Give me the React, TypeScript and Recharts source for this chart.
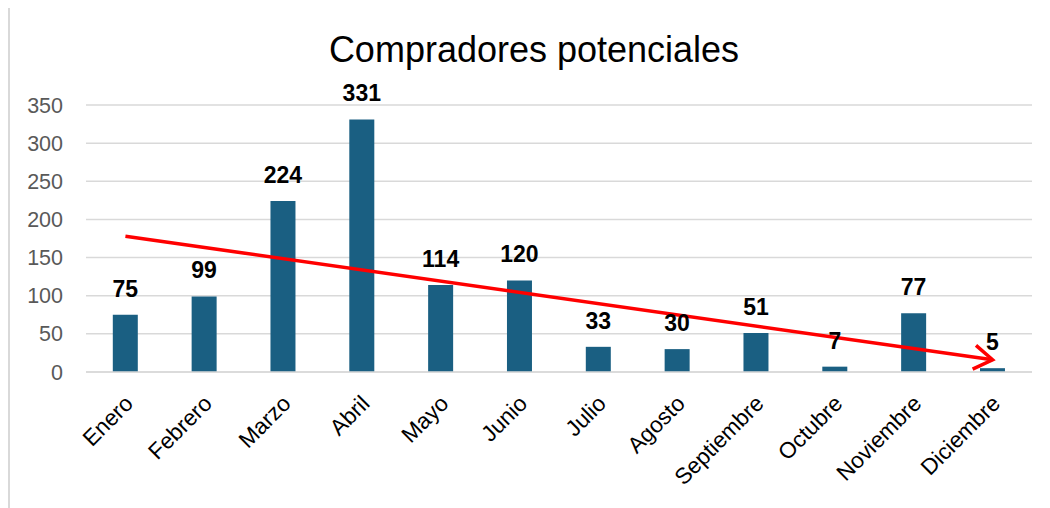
import { Bar, BarChart, CartesianGrid, LabelList, ReferenceLine, XAxis, YAxis } from "recharts";

const months = [
  "Enero",
  "Febrero",
  "Marzo",
  "Abril",
  "Mayo",
  "Junio",
  "Julio",
  "Agosto",
  "Septiembre",
  "Octubre",
  "Noviembre",
  "Diciembre",
];
const buyers = [75, 99, 224, 331, 114, 120, 33, 30, 51, 7, 77, 5];
const yTicks = [0, 50, 100, 150, 200, 250, 300, 350];
// hand-drawn trend arrow (start at Enero, tip at Diciembre)
const trendEnds = [178, 16];

const data = months.map((month, i) => ({ month, buyers: buyers[i] }));

const font = '"Liberation Sans", Arial, sans-serif';
const barColor = "#1a5f82";
const gridColor = "#d9d9d9";

const MonthTick = (props: any) => {
  const { x, y, payload } = props;
  return (
    <text
      transform={`translate(${x + 9},${y + 25}) rotate(-45)`}
      textAnchor="end"
      fontSize={22.5}
      fontFamily={font}
      fill="#000"
    >
      {payload.value}
    </text>
  );
};

const TrendArrow = (props: any) => {
  const { x1, y1, x2, y2 } = props;
  if ([x1, y1, x2, y2].some((v) => typeof v !== "number")) return <g />;
  const angle = Math.atan2(y2 - y1, x2 - x1);
  const arm = 22;
  const spread = (33 * Math.PI) / 180;
  const ax = x2 - arm * Math.cos(angle - spread);
  const ay = y2 - arm * Math.sin(angle - spread);
  const bx = x2 - arm * Math.cos(angle + spread);
  const by = y2 - arm * Math.sin(angle + spread);
  return (
    <g>
      <line x1={x1} y1={y1} x2={x2} y2={y2} stroke="#ff0000" strokeWidth={3.5} />
      <polyline
        points={`${ax},${ay} ${x2},${y2} ${bx},${by}`}
        fill="none"
        stroke="#ff0000"
        strokeWidth={3.5}
        strokeLinejoin="miter"
      />
    </g>
  );
};

export default function App() {
  return (
    <div
      style={{
        position: "relative",
        width: 1042,
        height: 500,
        marginTop: -2,
        borderLeft: `2px solid ${gridColor}`,
        borderTop: `2px solid ${gridColor}`,
        background: "#fff",
        fontFamily: font,
      }}
    >
      <div
        style={{
          position: "absolute",
          top: 21,
          left: 0,
          width: 1048,
          textAlign: "center",
          fontSize: 36,
          color: "#000",
        }}
      >
        Compradores potenciales
      </div>
      <BarChart
        width={1040}
        height={498}
        data={data}
        margin={{ top: 97, right: 18, left: 0, bottom: 0 }}
        barCategoryGap="34%"
      >
        <CartesianGrid vertical={false} stroke={gridColor} strokeWidth={1.5} />
        <XAxis
          dataKey="month"
          height={134}
          interval={0}
          tickLine={false}
          axisLine={{ stroke: gridColor, strokeWidth: 1.5 }}
          tick={<MonthTick />}
        />
        <YAxis
          width={76}
          domain={[0, 350]}
          ticks={yTicks}
          axisLine={false}
          tickLine={false}
          tickMargin={17}
          tick={{ fontSize: 21.5, fill: "#595959", fontFamily: font }}
        />
        <Bar dataKey="buyers" fill={barColor} isAnimationActive={false}>
          <LabelList
            dataKey="buyers"
            position="top"
            offset={18}
            fill="#000"
            fontSize={23}
            fontWeight="bold"
            fontFamily={font}
          />
        </Bar>
        <ReferenceLine
          segment={[
            { x: months[0], y: trendEnds[0] },
            { x: months[months.length - 1], y: trendEnds[1] },
          ]}
          ifOverflow="visible"
          shape={<TrendArrow />}
        />
      </BarChart>
    </div>
  );
}
